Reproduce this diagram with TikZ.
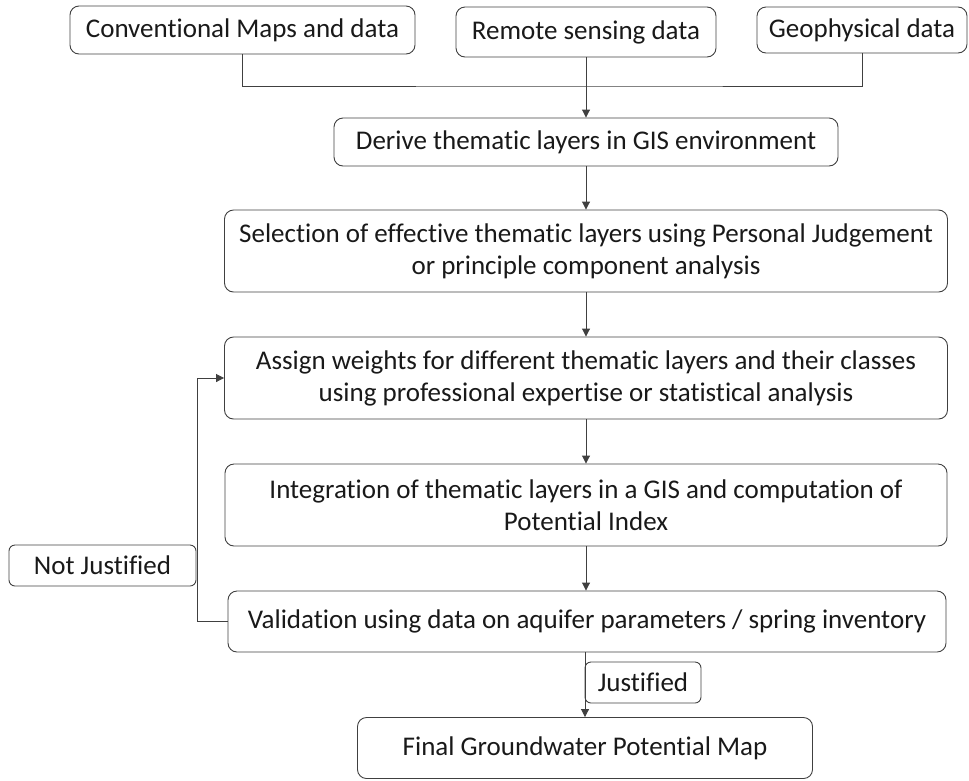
\documentclass[tikz,border=0pt]{standalone}
\usepackage{fontspec}
\setmainfont{Carlito}[Ligatures={NoCommon,NoDiscretionary}]
\usetikzlibrary{arrows.meta}
\tikzset{
  stepbox/.style={draw=black!75, line width=0.9pt, rounded corners=9pt, align=center,
    inner sep=0pt, font=\fontsize{27}{32}\selectfont, text=black!90},
  flowline/.style={draw=black!75, line width=0.9pt},
  flowarrow/.style={flowline, -{Triangle[width=8pt,length=8pt]}}
}
\begin{document}
\begin{tikzpicture}[x=1pt,y=-1pt]
\useasboundingbox (0,0) rectangle (969,780);
% inputs
\node[stepbox, minimum width=345, minimum height=48] (conv) at (242.5,30) {Conventional Maps and data};
\node[stepbox, minimum width=260, minimum height=50] (remote) at (586,32) {Remote sensing data};
\node[stepbox, minimum width=210, minimum height=46] (geo) at (862,30) {Geophysical data};
% main chain
\node[stepbox, minimum width=504, minimum height=48] (derive) at (586,142) {Derive thematic layers in GIS environment};
\node[stepbox, minimum width=723, minimum height=82] (select) at (586,251) {Selection of effective thematic layers using Personal Judgement\\or principle component analysis};
\node[stepbox, minimum width=723, minimum height=82] (assign) at (586,378) {Assign weights for different thematic layers and their classes\\using professional expertise or statistical analysis};
\node[stepbox, minimum width=722, minimum height=82] (integ) at (586,505) {Integration of thematic layers in a GIS and computation of\\Potential Index};
\node[stepbox, minimum width=718, minimum height=61] (valid) at (587,621.5) {Validation using data on aquifer parameters / spring inventory};
\node[stepbox, minimum width=455, minimum height=61] (final) at (585,748) {Final Groundwater Potential Map};
% labels
\node[stepbox, rounded corners=6pt, minimum width=187, minimum height=41] (notj) at (102.5,565.5) {Not Justified};
\node[stepbox, rounded corners=6pt, minimum width=116, minimum height=41] (just) at (643,682.5) {Justified};
% connectors
\coordinate (bar) at (586,86);
\draw[flowline] (conv.south) |- (bar) -| (geo.south);
\draw[flowarrow] (remote.south) -- (derive.north);
\draw[flowarrow] (derive.south) -- (select.north);
\draw[flowarrow] (select.south) -- (assign.north);
\draw[flowarrow] (assign.south) -- (integ.north);
\draw[flowarrow] (integ.south) -- (valid.north -| integ.south);
\draw[flowarrow] (valid.south -| final.north) -- (final.north);
\draw[flowarrow] (valid.west) -- ++(-30,0) |- (assign.west);
\end{tikzpicture}
\end{document}
